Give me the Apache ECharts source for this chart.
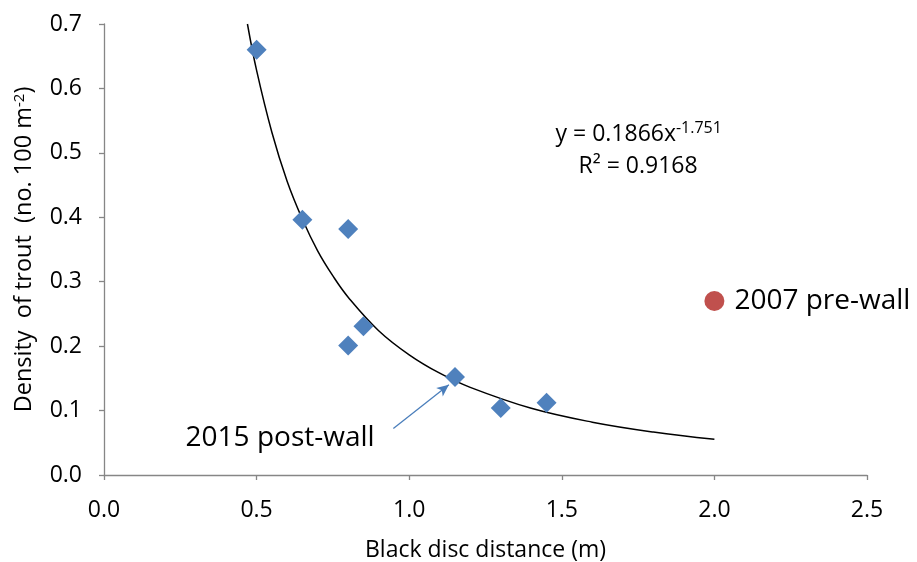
<!DOCTYPE html>
<html><head><meta charset="utf-8">
<script src="https://cdn.jsdelivr.net/npm/echarts@6/dist/echarts.min.js"></script>
<style>html,body{margin:0;padding:0;background:#fff}#c{width:917px;height:562px}</style>
</head><body><div id="c"></div>
<script>
// Data
const postWallX = [0.50, 0.65, 0.80, 0.85, 0.80, 1.15, 1.30, 1.45];
const postWallY = [0.660, 0.396, 0.382, 0.231, 0.201, 0.152, 0.104, 0.112];
const preWallX = [2.0];
const preWallY = [0.27];
const trendX = [0.47, 0.5, 0.55, 0.6, 0.65, 0.7, 0.75, 0.8, 0.9, 1.0, 1.1, 1.2, 1.4, 1.6, 1.8, 2.0];
const trendY = [0.700, 0.628, 0.532, 0.456, 0.397, 0.348, 0.309, 0.276, 0.224, 0.1866, 0.158, 0.136, 0.1035, 0.082, 0.0667, 0.0554];
const xTicks = ['0.0', '0.5', '1.0', '1.5', '2.0', '2.5'];
const yTicks = ['0.0', '0.1', '0.2', '0.3', '0.4', '0.5', '0.6', '0.7'];
const arrowFrom = [0.948, 0.072];
const arrowTo = [1.130, 0.140];
const postLabelAt = [0.577, 0.058];
const eqAt = [1.752, 0.528];
const r2At = [1.750, 0.479];

const FONT = 'Open Sans';
const chart = echarts.init(document.getElementById('c'));
const zip = (a, b) => a.map((v, i) => [v, b[i]]);
const txt = (coord, label) => ({ coord, symbol: 'circle', symbolSize: 1, itemStyle: { color: 'rgba(0,0,0,0)' }, label: Object.assign({ show: true, position: 'inside', color: '#000', fontFamily: FONT }, label) });
chart.setOption({
  animation: false,
  textStyle: { fontFamily: FONT },
  grid: { left: 104, right: 50, top: 24, bottom: 87, containLabel: false, outerBoundsMode: 'none' },
  xAxis: {
    type: 'value', min: 0, max: 2.5, interval: 0.5,
    name: 'Black disc distance (m)', nameLocation: 'middle', nameGap: 64,
    nameTextStyle: { fontSize: 23, color: '#000', fontFamily: FONT },
    axisLine: { lineStyle: { color: '#868686', width: 1.3 } },
    axisTick: { show: true, length: 5, lineStyle: { color: '#868686', width: 1.3 } },
    axisLabel: { fontSize: 23, color: '#000', margin: 24, formatter: v => xTicks[Math.round(v / 0.5)] },
    splitLine: { show: false }
  },
  yAxis: {
    type: 'value', min: 0, max: 0.7, interval: 0.1,
    name: '{a|Density  of trout  (no. 100 m}{s|-2}{a|)}', nameLocation: 'middle', nameGap: 67,
    nameTextStyle: { rich: { a: { fontSize: 23.5, color: '#000', fontFamily: FONT }, s: { fontSize: 15, color: '#000', fontFamily: FONT, verticalAlign: 'top', padding: [0, 0, 10, 0] } } },
    axisLine: { show: true, lineStyle: { color: '#868686', width: 1.3 } },
    axisTick: { show: true, length: 5, lineStyle: { color: '#868686', width: 1.3 } },
    axisLabel: { fontSize: 23, color: '#000', margin: 22, formatter: v => yTicks[Math.round(v / 0.1)] },
    splitLine: { show: false }
  },
  series: [
    {
      type: 'line', data: zip(trendX, trendY), smooth: 0.4, symbol: 'none',
      lineStyle: { color: '#000', width: 1.5 }, z: 2,
      markLine: {
        silent: true, symbol: ['none', 'arrow'], symbolSize: [8, 12],
        lineStyle: { color: '#4a7ebb', width: 1.3, type: 'solid' }, label: { show: false },
        data: [[{ coord: arrowFrom }, { coord: arrowTo }]]
      },
      markPoint: {
        silent: true,
        data: [
          txt(postLabelAt, { formatter: '2015 post-wall', fontSize: 28 }),
          txt(eqAt, { formatter: '{a|y = 0.1866x}{s|-1.751}', rich: { a: { fontSize: 23, color: '#000', fontFamily: FONT }, s: { fontSize: 16, color: '#000', fontFamily: FONT, verticalAlign: 'top', padding: [0, 0, 12, 0] } } }),
          txt(r2At, { formatter: 'R² = 0.9168', fontSize: 23 })
        ]
      }
    },
    {
      type: 'scatter', data: zip(postWallX, postWallY), symbol: 'diamond', symbolSize: [20, 20],
      itemStyle: { color: '#4f81bd', opacity: 1 }, z: 3
    },
    {
      type: 'scatter', data: zip(preWallX, preWallY), symbol: 'circle', symbolSize: 20,
      itemStyle: { color: '#c0504d', opacity: 1 }, z: 3,
      label: { show: true, position: 'right', distance: 10, formatter: '2007 pre-wall', fontSize: 28, color: '#000' }
    }
  ]
});
</script></body></html>
